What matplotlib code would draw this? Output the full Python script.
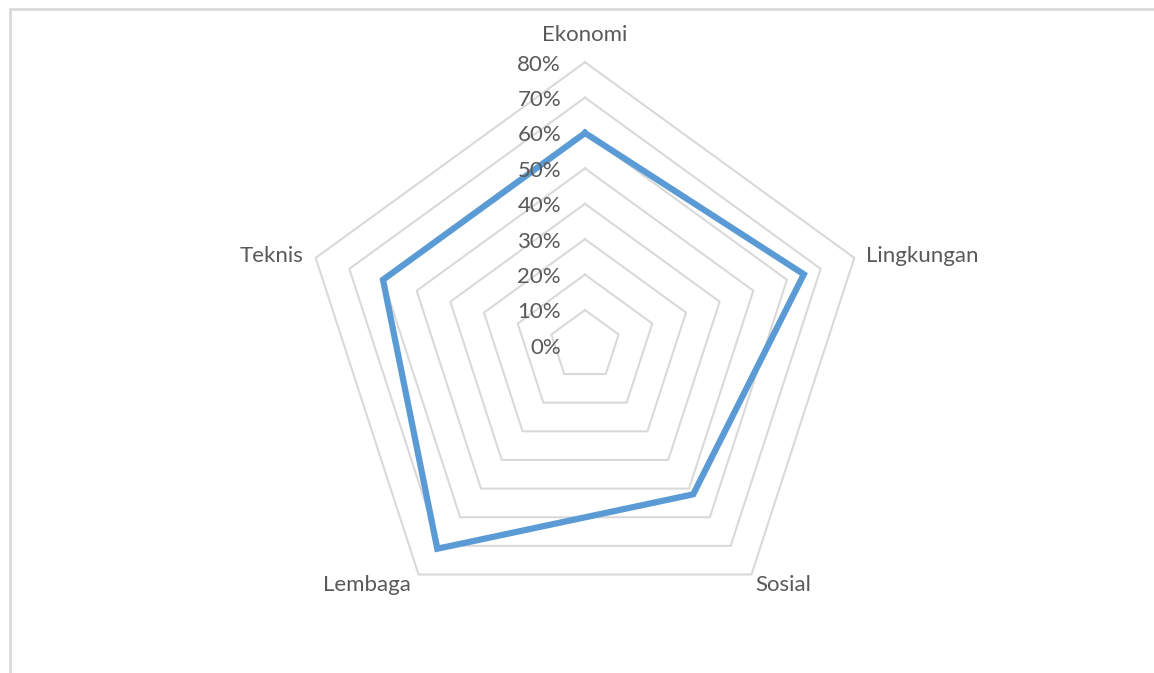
import numpy as np
from matplotlib import pyplot as plt
from matplotlib.patches import Rectangle

categories = ["Ekonomi", "Lingkungan", "Sosial", "Lembaga", "Teknis"]
scores = [60, 65, 52, 71, 60]
ring_levels = [10, 20, 30, 40, 50, 60, 70, 80]
tick_labels = ["0%", "10%", "20%", "30%", "40%", "50%", "60%", "70%", "80%"]

W, H = 1154, 673
cx, cy = 585, 345.4      # pixel position of the centre
unit = 3.54              # pixels per percentage point

grid_color = "#d9d9d9"
text_color = "#595959"
line_color = "#5b9bd5"

plt.rcParams["font.family"] = ["Lato", "DejaVu Sans"]

fig = plt.figure(figsize=(W / 100, H / 100), dpi=100)
ax = fig.add_axes([0, 0, 1, 1])
ax.set_xlim(-cx / unit, (W - cx) / unit)
ax.set_ylim(-(H - cy) / unit, cy / unit)
ax.axis("off")

# spokes go clockwise starting at the top
angles = np.pi / 2 - np.arange(len(categories)) * 2 * np.pi / len(categories)


def polygon(r):
    rr = np.broadcast_to(np.asarray(r, dtype=float), angles.shape)
    x = rr * np.cos(angles)
    y = rr * np.sin(angles)
    return np.append(x, x[0]), np.append(y, y[0])


for lvl in ring_levels:
    x, y = polygon(lvl)
    ax.plot(x, y, color=grid_color, lw=1.5, zorder=1)

x, y = polygon(scores)
ax.plot(x, y, color=line_color, lw=4.5, solid_joinstyle="miter", zorder=3)

# value labels along the top spoke
for i, lab in enumerate(tick_labels):
    ax.text(-24 / unit, i * 10 - 0.7, lab, ha="right", va="center",
            fontsize=16, color=text_color, zorder=4)

# category labels just outside the outer ring
outer = ring_levels[-1]
label_pos = [
    (0, outer + 7.7, "center", "center"),
    (outer * np.cos(angles[1]) + 3.3, outer * np.sin(angles[1]) + 0.5, "left", "center"),
    (outer * np.cos(angles[2]) + 1.2, outer * np.sin(angles[2]) - 2.9, "left", "center"),
    (outer * np.cos(angles[3]) - 2.3, outer * np.sin(angles[3]) - 2.9, "right", "center"),
    (outer * np.cos(angles[4]) - 3.5, outer * np.sin(angles[4]) + 0.5, "right", "center"),
]
for name, (tx, ty, ha, va) in zip(categories, label_pos):
    ax.text(tx, ty, name, ha=ha, va=va, fontsize=16, color=text_color)

# chart area border (runs off the right and bottom edges)
fig.patches.append(Rectangle((9.5 / W, -0.1), 1.2, (H - 9.5) / H + 0.1,
                             transform=fig.transFigure, fill=False,
                             edgecolor=grid_color, lw=2))

fig.savefig("out.png", dpi=100, facecolor="white")
